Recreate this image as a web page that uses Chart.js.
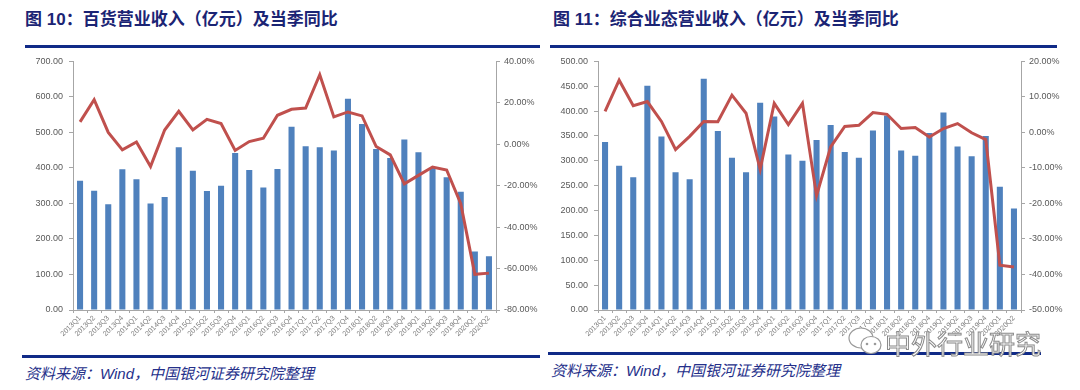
<!DOCTYPE html>
<html><head><meta charset="utf-8">
<script src="https://cdn.jsdelivr.net/npm/chart.js@4"></script>
<style>
html,body{margin:0;padding:0;background:#fff;width:1080px;height:390px;overflow:hidden;font-family:"Liberation Sans","Noto Sans CJK SC",sans-serif;}
.t{position:absolute;font-family:"Liberation Sans","Noto Sans CJK SC",sans-serif;font-weight:bold;font-size:17px;color:#1b2474;white-space:nowrap;}
.rule{position:absolute;height:3px;background:#102a87;}
.src{position:absolute;font-family:"Liberation Sans","Noto Sans CJK SC",sans-serif;font-style:italic;font-size:15px;color:#25308a;white-space:nowrap;}
.cw{position:absolute;}
.wm{position:absolute;left:885px;top:324px;font-family:"Noto Sans CJK SC",sans-serif;font-size:26px;color:#fff;-webkit-text-stroke:1px #8a8a8a;white-space:nowrap;z-index:5;letter-spacing:0px;}
.ic{position:absolute;left:846px;top:322px;z-index:5;}
</style></head><body>
<div class="t" style="left:25px;top:5px;">图 10：百货营业收入（亿元）及当季同比</div>
<div class="t" style="left:553px;top:5px;">图 11：综合业态营业收入（亿元）及当季同比</div>
<div class="rule" style="left:25px;top:45px;width:515px;"></div>
<div class="rule" style="left:550px;top:45px;width:507px;"></div>
<div class="rule" style="left:22px;top:355px;width:518px;"></div>
<div class="rule" style="left:548px;top:352px;width:493px;"></div>
<div class="src" style="left:25px;top:362px;">资料来源：Wind，中国银河证券研究院整理</div>
<div class="src" style="left:551px;top:359px;">资料来源：Wind，中国银河证券研究院整理</div>
<div class="cw" style="left:0px;top:50px;width:540px;height:300px;"><canvas id="c1" width="540" height="300"></canvas></div>
<div class="cw" style="left:525px;top:50px;width:540px;height:300px;"><canvas id="c2" width="540" height="300"></canvas></div>
<svg class="ic" width="40" height="40" viewBox="0 0 40 40">
<ellipse cx="15" cy="16" rx="12" ry="10" fill="#fff" stroke="#9a9a9a" stroke-width="1.2"/>
<ellipse cx="25" cy="23" rx="10" ry="8.5" fill="#fff" stroke="#9a9a9a" stroke-width="1.2"/>
<circle cx="21" cy="22" r="1.3" fill="#9a9a9a"/><circle cx="29" cy="22" r="1.3" fill="#9a9a9a"/>
</svg>
<div class="wm">中外行业研究</div>
<script>
const quarters = ["2013Q1","2013Q2","2013Q3","2013Q4","2014Q1","2014Q2","2014Q3","2014Q4","2015Q1","2015Q2","2015Q3","2015Q4","2016Q1","2016Q2","2016Q3","2016Q4","2017Q1","2017Q2","2017Q3","2017Q4","2018Q1","2018Q2","2018Q3","2018Q4","2019Q1","2019Q2","2019Q3","2019Q4","2020Q1","2020Q2"];
const deptRevenue = [364,336,298,396,368,300,318,458,392,335,350,442,394,345,397,516,461,458,449,595,524,453,428,480,444,400,374,333,165,151];
const deptYoY = [10.8,21.5,5.7,-2.7,1.1,-10.7,6.9,15.9,6.9,12.0,10.0,-3.0,1.3,2.9,14.0,16.9,17.5,33.6,13.2,15.6,13.7,-1.1,-5.1,-19.1,-15.0,-11.0,-12.4,-28.7,-62.8,-62.2];
const mixedRevenue = [338,290,267,451,349,277,263,465,360,306,277,417,389,313,300,342,372,318,306,361,391,321,310,356,397,329,309,350,248,204];
const mixedYoY = [5.9,14.7,7.5,8.7,3.1,-4.8,-1.1,3.1,3.0,10.5,5.4,-10.4,8.2,2.2,8.2,-17.8,-4.1,1.7,2.0,5.6,5.1,1.1,1.4,-1.3,1.1,2.5,-0.1,-2.0,-37.4,-37.9];
const leftTicks1 = {min:0,max:700,step:100};
const rightTicks1 = {min:-80,max:40,step:20};
const leftTicks2 = {min:0,max:500,step:50};
const rightTicks2 = {min:-50,max:20,step:10};

const AX = '#a6a6a6', TC = '#595959';
function make(id, bars, line, lt, rt, leftW, rightW){
  new Chart(document.getElementById(id), {
    data: {
      labels: quarters,
      datasets: [
        {type:'line', data: line, yAxisID:'y1', borderColor:'#C0504D', borderWidth:3, pointRadius:0, tension:0, order:0},
        {type:'bar', data: bars, yAxisID:'y', backgroundColor:'#4F81BD', categoryPercentage:1, barPercentage:0.43, order:1}
      ]
    },
    options: {
      responsive:false, animation:false, devicePixelRatio:1,
      layout:{padding:{top:9,left:0,right:0,bottom:0}},
      plugins:{legend:{display:false}, tooltip:{enabled:false}},
      scales:{
        x:{
          grid:{display:true, drawOnChartArea:false, color:AX, tickLength:3},
          border:{display:true,color:AX,width:1},
          ticks:{autoSkip:false, minRotation:45, maxRotation:45, color:'#7f7f7f', font:{size:7.2,family:'Liberation Sans'}, padding:1},
          afterFit:(s)=>{s.height=40;}
        },
        y:{
          position:'left', min:lt.min, max:lt.max,
          grid:{display:true, drawOnChartArea:false, color:AX, tickLength:4},
          border:{display:true,color:AX,width:1},
          ticks:{stepSize:lt.step, color:TC, font:{size:9,family:'Liberation Sans'}, padding:6, callback:(v)=>v.toFixed(2)},
          afterFit:(s)=>{s.width=leftW;}
        },
        y1:{
          position:'right', min:rt.min, max:rt.max,
          grid:{display:true, drawOnChartArea:false, color:AX, tickLength:4},
          border:{display:true,color:AX,width:1},
          ticks:{stepSize:rt.step, color:TC, font:{size:9,family:'Liberation Sans'}, padding:4, callback:(v)=>v.toFixed(2)+'%'},
          afterFit:(s)=>{s.width=rightW;}
        }
      }
    }
  });
}
make('c1', deptRevenue, deptYoY, leftTicks1, rightTicks1, 73, 44);
make('c2', mixedRevenue, mixedYoY, leftTicks2, rightTicks2, 73, 44);
</script>
</body></html>
